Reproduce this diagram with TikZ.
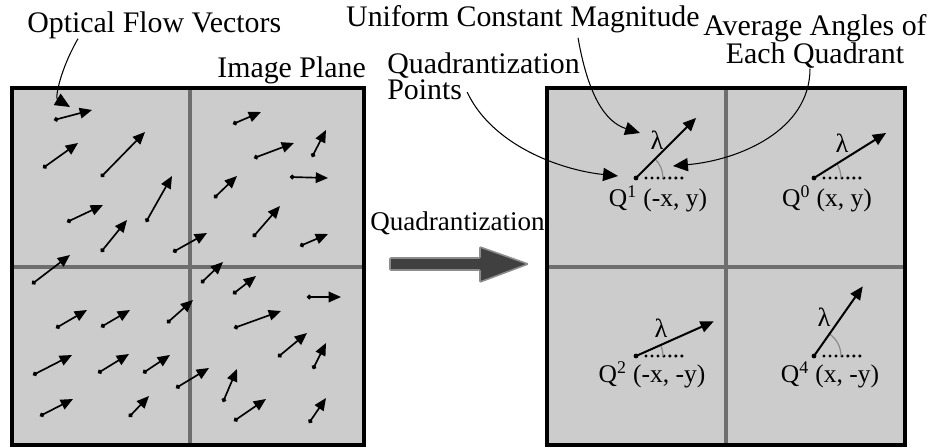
\documentclass[tikz,border=0pt]{standalone}
\usepackage{fontspec}
\setmainfont{Liberation Serif}
\usepackage{xcolor}
\usetikzlibrary{arrows.meta, positioning}

\definecolor{cellgray}{RGB}{204,204,204}
\definecolor{divgray}{RGB}{110,110,110}
\definecolor{arcgray}{RGB}{140,140,140}
\definecolor{bigfill}{RGB}{64,64,64}
\definecolor{bigedge}{RGB}{140,140,140}

\begin{document}
\begin{tikzpicture}[x=0.02cm, y=-0.02cm,
  border/.style={draw=black, line width=2pt},
  divider/.style={draw=divgray, line width=2.1pt},
  vec/.style={line width=0.95pt, {Circle[length=2.6pt]}-{Triangle[length=7pt,width=6pt]}},
  qvec/.style={line width=1.15pt, -{Triangle[length=7.5pt,width=6.5pt]}},
  note/.style={line width=0.6pt, -{Triangle[length=8.5pt,width=7.5pt]}},
  ann/.style={inner sep=0pt, font=\fontsize{17}{16}\selectfont},
  midlbl/.style={inner sep=0pt, font=\fontsize{15.4}{16}\selectfont},
  qlbl/.style={inner sep=0pt, font=\fontsize{14.5}{15}\selectfont},
  lam/.style={inner sep=0pt, font=\fontsize{15}{15}\selectfont},
  dots/.style={line width=1.9pt, line cap=round, dash pattern=on 0pt off 3.4pt},
  anglearc/.style={draw=arcgray, line width=0.7pt}
]
  \useasboundingbox (0,0) rectangle (938,447);

  % image plane with flow vectors
  \fill[cellgray] (12,88) rectangle (364,445);
  \draw[divider] (190,88) -- (190,445);
  \draw[divider] (12,267) -- (364,267);
  \draw[border] (12,88) rectangle (364,445);

  \foreach \a/\b/\c/\d in {54/120/92/110, 43/168/78/143, 101/177/145/132,
      67/222/103/205, 146/222/172/176, 101/252/127/220, 32/284/70/255,
      173/252/207/233, 233/124/261/112, 254/158/294/143, 312/157/326/130,
      290/177/328/178, 214/198/237/176, 253/237/280/206, 300/246/328/234,
      201/283/223/262, 233/294/256/276, 307/297/341/297, 56/328/87/310,
      101/327/130/310, 167/323/193/300, 234/328/281/311, 278/357/307/333,
      313/369/326/343, 33/375/72/355, 98/373/129/354, 143/373/170/355,
      176/388/209/368, 223/402/237/369, 40/416/73/399, 129/417/149/396,
      234/421/266/399, 309/423/326/398}
    \draw[vec] (\a,\b) -- (\c,\d);

  % quadrantized plane
  \fill[cellgray] (547,88) rectangle (905,445);
  \draw[divider] (726,88) -- (726,445);
  \draw[divider] (547,267) -- (905,267);
  \draw[border] (547,88) rectangle (905,445);

  \coordinate (q1) at (636,178);
  \coordinate (q0) at (814,178);
  \coordinate (q2) at (636,356);
  \coordinate (q4) at (814,356);

  \foreach \q/\ang in {q1/-45, q0/-32, q2/-24, q4/-55} {
    \fill (\q) circle[radius=2.4];
    \draw[dots] (\q) ++(10,0) -- ++(36,0);
    \draw[anglearc] (\q) ++(27,0) arc[start angle=0, end angle=\ang, radius=27];
    \draw[qvec] (\q) -- ++(\ang:85);
  }

  \node[lam] (lam1) at (657,140) {λ};
  \node[lam] (lam0) at (842,143) {λ};
  \node[lam] (lam2) at (661,328) {λ};
  \node[lam] (lam4) at (824,317) {λ};

  \node[qlbl] (lbl1) at (658,199) {Q\textsuperscript{1} (-x, y)};
  \node[qlbl] (lbl0) at (827,199) {Q\textsuperscript{0} (x, y)};
  \node[qlbl] (lbl2) at (652,375) {Q\textsuperscript{2} (-x, -y)};
  \node[qlbl] (lbl4) at (830,375) {Q\textsuperscript{4} (x, -y)};

  % big arrow between the planes
  \node[midlbl, anchor=base west] (qz) at (370,230) {Quadrantization};
  \filldraw[fill=bigfill, draw=bigedge, line width=0.9pt, rounded corners=0.5pt]
    (390,258) -- (480,258) -- (480,247) -- (528,264) -- (480,282)
    -- (480,270) -- (390,270) -- cycle;

  % annotations
  \node[ann, anchor=base west] (ofv) at (27,32) {Optical Flow Vectors};
  \node[ann, anchor=base west] (ipl) at (217,77) {Image Plane};
  \node[ann, anchor=base east] (ucm) at (700,26) {Uniform Constant Magnitude};
  \node[ann, anchor=north, align=center] (aaq) at (815,14) {Average Angles of\\Each Quadrant};
  \node[inner sep=0pt, anchor=north west, align=left,
        font=\fontsize{17}{15}\selectfont] (qp) at (387,52) {Quadrantization\\Points};

  \coordinate (ofvtip) at (70,107);
  \coordinate (ucmtip) at (640,133);
  \coordinate (qptip)  at (618,176);
  \coordinate (aaqtip) at (673,166);

  \draw[note] ([xshift=1.02cm]ofv.south west) .. controls (60,70) and (55,98) .. (ofvtip);
  \draw[note] ([xshift=-2.44cm,yshift=-0.1cm]ucm.south east) .. controls (588,95) and (605,122) .. (ucmtip);
  \draw[note] ([xshift=-2.26cm,yshift=0.16cm]qp.south east) .. controls (492,145) and (560,170) .. (qptip);
  \draw[note] ([xshift=-0.1cm]aaq.south) .. controls (810,130) and (740,160) .. (aaqtip);
\end{tikzpicture}
\end{document}
